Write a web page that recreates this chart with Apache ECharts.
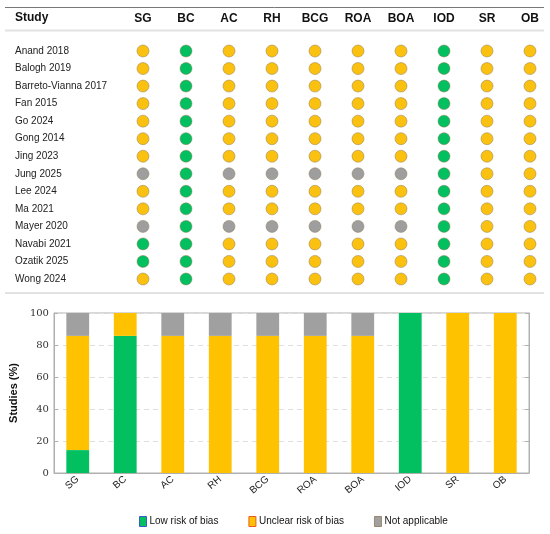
<!DOCTYPE html>
<html>
<head>
<meta charset="utf-8" />
<title>Risk of bias</title>
<script src="https://cdn.jsdelivr.net/npm/echarts@6/dist/echarts.min.js"></script>
<style>
  html, body { margin: 0; padding: 0; background: #fff; }
  #chart { width: 550px; height: 534px; }
</style>
</head>
<body>
<div id="chart"></div>
<script>
// domains (columns) and studies (rows)
var domains = ['SG', 'BC', 'AC', 'RH', 'BCG', 'ROA', 'BOA', 'IOD', 'SR', 'OB'];
var studies = ['Anand 2018', 'Balogh 2019', 'Barreto-Vianna 2017', 'Fan 2015', 'Go 2024',
  'Gong 2014', 'Jing 2023', 'Jung 2025', 'Lee 2024', 'Ma 2021', 'Mayer 2020',
  'Navabi 2021', 'Ozatik 2025', 'Wong 2024'];
// L = low, U = unclear, N = not applicable (one string per study, one letter per domain)
var ratings = [
  'ULUUUUULUU',
  'ULUUUUULUU',
  'ULUUUUULUU',
  'ULUUUUULUU',
  'ULUUUUULUU',
  'ULUUUUULUU',
  'ULUUUUULUU',
  'NLNNNNNLUU',
  'ULUUUUULUU',
  'ULUUUUULUU',
  'NLNNNNNLUU',
  'LLUUUUULUU',
  'LLUUUUULUU',
  'ULUUUUULUU'
];
// summary bars, % of studies
var lowPct     = [14.3, 85.7, 0, 0, 0, 0, 0, 100, 0, 0];
var unclearPct = [71.4, 14.3, 85.7, 85.7, 85.7, 85.7, 85.7, 0, 100, 100];
var naPct      = [14.3, 0, 14.3, 14.3, 14.3, 14.3, 14.3, 0, 0, 0];
var yTicks = [0, 20, 40, 60, 80, 100];

var GREEN = '#02bf5f', YELLOW = '#fec200', GRAY = '#a0a0a0';

function dots(code) {
  var out = [];
  for (var i = 0; i < studies.length; i++) {
    for (var j = 0; j < domains.length; j++) {
      if (ratings[i].charAt(j) === code) out.push([domains[j], studies[i]]);
    }
  }
  return out;
}

var chart = echarts.init(document.getElementById('chart'));
var dotStyle = function (c) {
  return { color: c, opacity: 1, borderColor: 'rgba(140,120,80,0.6)', borderWidth: 0.8 };
};

var option = {
  animation: false,
  graphic: [
    { type: 'line', shape: { x1: 5, y1: 7.5, x2: 544, y2: 7.5 }, style: { stroke: '#777', lineWidth: 1 } },
    { type: 'line', shape: { x1: 5, y1: 30.5, x2: 544, y2: 30.5 }, style: { stroke: '#e2e2e2', lineWidth: 2 } },
    { type: 'line', shape: { x1: 5, y1: 293, x2: 544, y2: 293 }, style: { stroke: '#e2e2e2', lineWidth: 2 } },
    { type: 'text', left: 15, top: 12, style: { text: 'Study', font: 'bold 12px "Liberation Sans", Arial', fill: '#111' } }
  ],
  grid: [
    { left: 143, width: 387, top: 51, height: 228 },
    { left: 53.5, right: 21, top: 313, bottom: 61, show: true, borderColor: '#b0b0b0', borderWidth: 1 }
  ],
  xAxis: [
    {
      gridIndex: 0, type: 'category', data: domains, position: 'top', boundaryGap: false,
      axisLine: { show: false }, axisTick: { show: false }, splitLine: { show: false },
      axisLabel: { margin: 26, fontSize: 12, fontWeight: 'bold', color: '#111', fontFamily: 'Liberation Sans' }
    },
    {
      gridIndex: 1, type: 'category', data: domains,
      axisLine: { lineStyle: { color: '#b0b0b0' } }, axisTick: { show: false },
      axisLabel: { rotate: 40, margin: 5, fontSize: 10, color: '#222', fontFamily: 'Liberation Sans' }
    }
  ],
  yAxis: [
    {
      gridIndex: 0, type: 'category', data: studies, inverse: true, boundaryGap: false,
      axisLine: { show: false }, axisTick: { show: false }, splitLine: { show: false },
      axisLabel: { align: 'left', margin: 128, fontSize: 10, color: '#222', fontFamily: 'Liberation Sans' }
    },
    {
      gridIndex: 1, type: 'value', min: yTicks[0], max: yTicks[yTicks.length - 1], interval: 20,
      name: 'Studies (%)', nameLocation: 'middle', nameGap: 26,
      nameTextStyle: { fontSize: 11, fontWeight: 'bold', color: '#111', fontFamily: 'Liberation Sans' },
      axisLine: { show: true, lineStyle: { color: '#b0b0b0' } },
      axisTick: { show: true, inside: true, length: 4, lineStyle: { color: '#b0b0b0' } },
      axisLabel: { fontSize: 10, color: '#333', fontFamily: 'DejaVu Serif', margin: 5 },
      splitLine: { show: true, lineStyle: { color: '#e0e0e0', type: [5, 4] } }
    },
    {
      gridIndex: 1, type: 'value', min: yTicks[0], max: yTicks[yTicks.length - 1], interval: 20,
      position: 'right',
      axisLine: { show: true, lineStyle: { color: '#b0b0b0' } },
      axisTick: { show: true, inside: true, length: 4, lineStyle: { color: '#b0b0b0' } },
      axisLabel: { show: false }, splitLine: { show: false }
    }
  ],
  legend: {
    left: 139, top: 516, padding: 0, itemWidth: 7, itemHeight: 10, itemGap: 30, icon: 'rect',
    textStyle: { fontSize: 10, color: '#111', fontFamily: 'Liberation Sans', padding: [0, 0, 0, -2] },
    data: [
      { name: 'Low risk of bias', itemStyle: { borderColor: '#3a5bd0', borderWidth: 1 } },
      { name: 'Unclear risk of bias', itemStyle: { borderColor: '#f05a20', borderWidth: 1 } },
      { name: 'Not applicable', itemStyle: { borderColor: '#9a8670', borderWidth: 1 } }
    ]
  },
  series: [
    { name: 'dotsL', type: 'scatter', xAxisIndex: 0, yAxisIndex: 0, symbolSize: 12, data: dots('L'), itemStyle: dotStyle(GREEN) },
    { name: 'dotsU', type: 'scatter', xAxisIndex: 0, yAxisIndex: 0, symbolSize: 12, data: dots('U'), itemStyle: dotStyle('#fbc110') },
    { name: 'dotsN', type: 'scatter', xAxisIndex: 0, yAxisIndex: 0, symbolSize: 12, data: dots('N'), itemStyle: dotStyle('#9e9e9e') },
    { name: 'Low risk of bias', type: 'bar', stack: 'rob', xAxisIndex: 1, yAxisIndex: 1, barWidth: '48%', data: lowPct, itemStyle: { color: GREEN } },
    { name: 'Unclear risk of bias', type: 'bar', stack: 'rob', xAxisIndex: 1, yAxisIndex: 1, barWidth: '48%', data: unclearPct, itemStyle: { color: YELLOW } },
    { name: 'Not applicable', type: 'bar', stack: 'rob', xAxisIndex: 1, yAxisIndex: 1, barWidth: '48%', data: naPct, itemStyle: { color: GRAY } }
  ]
};
chart.setOption(option);
</script>
</body>
</html>
